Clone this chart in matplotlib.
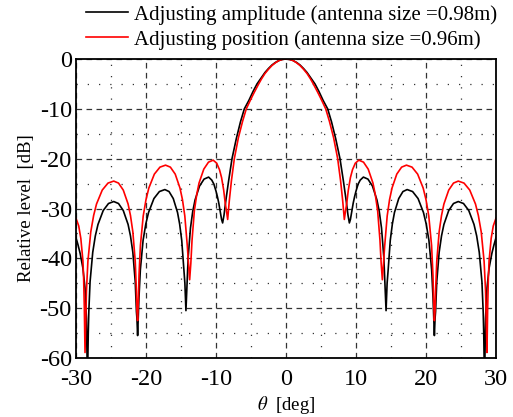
import numpy as np
import matplotlib
matplotlib.use('Agg')
import matplotlib.pyplot as plt

plt.rcParams['font.family'] = ['Liberation Serif', 'DejaVu Serif']
plt.rcParams['mathtext.fontset'] = 'stix'
plt.rcParams['axes.unicode_minus'] = False

# pattern (deg, dB)
theta_amp = [-30.0, -29.7, -29.4, -29.0, -28.7, -28.5,
             -28.35, -28.24, -28.16, -27.98, -27.6, -27.23, -26.85, -26.1, -25.35, -24.6, -23.92, -23.24,
             -22.55, -22.21, -21.87, -21.53, -21.36, -21.29,
             -21.19, -21.0, -20.8, -20.41, -20.02, -19.63, -18.86, -18.08, -17.3, -16.7, -16.1, -15.49,
             -15.19, -14.89, -14.59, -14.44,
             -14.29, -14.13, -13.97, -13.64, -13.32, -12.99, -12.35, -11.7, -11.05, -10.6, -10.3, -10.0,
             -9.8, -9.6, -9.4, -9.2,
             -9.05, -8.85, -8.6, -8.2, -7.71, -7.1, -6.5, -5.95, -5.3, -4.7, -4.14, -3.5, -3.0, -2.5,
             -2.0, -1.5, -1.0, -0.5,
             0.0,
             0.5, 1.0, 1.5, 2.0, 2.5, 3.0, 3.5, 4.14, 4.7, 5.3, 5.95, 6.5, 7.1, 7.71, 8.2, 8.6, 8.85, 9.05,
             9.2, 9.4, 9.6, 9.8, 10.0, 10.3, 10.6, 11.05, 11.7, 12.35, 12.99, 13.32, 13.64, 13.97, 14.13, 14.29,
             14.44, 14.59, 14.89, 15.19, 15.49, 16.1, 16.7, 17.3, 18.08, 18.86, 19.63, 20.02, 20.41, 20.8,
             21.0, 21.19,
             21.29, 21.36, 21.53, 21.87, 22.21, 22.55, 23.24, 23.92, 24.6, 25.35, 26.1, 26.85, 27.23, 27.6,
             27.98, 28.16, 28.24, 28.35,
             28.5, 28.7, 29.0, 29.4, 29.7, 30.0]
level_amp = [-35.8, -37.3, -39.0, -42.0, -46.0, -52.0,
             -65.0, -55.2, -50.7, -44.7, -38.8, -35.5, -33.2, -30.4, -29.0, -28.6, -29.0, -30.4,
             -33.2, -35.5, -38.8, -44.7, -50.7, -52.0,
             -55.5, -48.0, -42.3, -36.4, -33.1, -30.8, -28.0, -26.6, -26.2, -26.6, -28.0, -30.8,
             -33.1, -36.4, -42.3, -45.0,
             -50.5, -45.0, -39.8, -33.9, -30.6, -28.3, -25.5, -24.1, -23.7, -24.3, -25.1, -26.5,
             -27.6, -28.9, -30.5, -32.2,
             -32.9, -31.3, -28.5, -24.5, -20.0, -16.0, -12.6, -10.0, -8.3, -6.5, -5.0, -3.7, -2.7, -1.9,
             -1.2, -0.68, -0.3, -0.08,
             0.0,
             -0.08, -0.3, -0.68, -1.2, -1.9, -2.7, -3.7, -5.0, -6.5, -8.3, -10.0, -12.6, -16.0, -20.0, -24.5, -28.5, -31.3, -32.9,
             -32.2, -30.5, -28.9, -27.6, -26.5, -25.1, -24.3, -23.7, -24.1, -25.5, -28.3, -30.6, -33.9, -39.8, -45.0, -50.5,
             -45.0, -42.3, -36.4, -33.1, -30.8, -28.0, -26.6, -26.2, -26.6, -28.0, -30.8, -33.1, -36.4, -42.3,
             -48.0, -55.5,
             -52.0, -50.7, -44.7, -38.8, -35.5, -33.2, -30.4, -29.0, -28.6, -29.0, -30.4, -33.2, -35.5, -38.8,
             -44.7, -50.7, -55.2, -65.0,
             -52.0, -46.0, -42.0, -39.0, -37.3, -35.8]

theta_pos = [-30.0, -29.6, -29.3, -29.0, -28.9, -28.8,
             -28.7, -28.58, -28.5, -28.29, -27.88, -27.47, -27.06, -26.24, -25.42, -24.6, -23.92, -23.24,
             -22.55, -22.21, -21.87, -21.53, -21.36, -21.29,
             -21.19, -21.07, -20.99, -20.79, -20.39, -19.99, -19.59, -18.8, -18.0, -17.2, -16.51, -15.82,
             -15.14, -14.79, -14.45, -14.1, -13.93,
             -13.76, -13.59, -13.42, -13.09, -12.75, -12.42, -11.74, -11.07, -10.4, -9.9, -9.5, -9.2,
             -8.9, -8.67, -8.5,
             -8.33, -8.1, -7.8, -7.38, -6.8, -6.2, -5.67, -5.0, -4.5, -3.9, -3.5, -3.0, -2.5, -2.0,
             -1.5, -1.0, -0.5,
             0.0,
             0.5, 1.0, 1.5, 2.0, 2.5, 3.0, 3.5, 3.9, 4.5, 5.0, 5.67, 6.2, 6.8, 7.38, 7.8, 8.1, 8.33,
             8.5, 8.67, 8.9, 9.2, 9.5, 9.9, 10.4, 11.07, 11.74, 12.42, 12.75, 13.09, 13.42, 13.59, 13.76,
             13.93, 14.1, 14.45, 14.79, 15.14, 15.82, 16.51, 17.2, 18.0, 18.8, 19.59, 19.99, 20.39,
             20.79, 20.99, 21.07, 21.19,
             21.29, 21.36, 21.53, 21.87, 22.21, 22.55, 23.24, 23.92, 24.6, 25.42, 26.24, 27.06, 27.47,
             27.88, 28.29, 28.5, 28.58, 28.7,
             28.8, 28.9, 29.0, 29.3, 29.6, 30.0]
level_pos = [-31.9, -33.5, -36.0, -40.5, -44.0, -50.0,
             -58.9, -51.0, -46.6, -40.6, -34.7, -31.4, -29.1, -26.3, -24.9, -24.5, -24.9, -26.3,
             -29.1, -31.4, -34.7, -40.6, -46.6, -50.5,
             -52.5, -47.9, -43.4, -37.4, -31.5, -28.2, -25.9, -23.1, -21.7, -21.3, -21.7, -23.1,
             -25.9, -28.2, -31.5, -37.4, -41.0,
             -44.3, -41.0, -36.4, -30.5, -27.2, -24.9, -22.1, -20.7, -20.3, -20.9, -22.2, -23.8,
             -26.3, -29.0, -30.5,
             -32.2, -28.5, -24.5, -20.0, -15.8, -12.5, -10.0, -8.0, -6.6, -5.0, -4.0, -2.9, -2.05, -1.3,
             -0.75, -0.3, -0.08,
             0.0,
             -0.08, -0.3, -0.75, -1.3, -2.05, -2.9, -4.0, -5.0, -6.6, -8.0, -10.0, -12.5, -15.8, -20.0, -24.5, -28.5, -32.2,
             -30.5, -29.0, -26.3, -23.8, -22.2, -20.9, -20.3, -20.7, -22.1, -24.9, -27.2, -30.5, -36.4, -41.0, -44.3,
             -41.0, -37.4, -31.5, -28.2, -25.9, -23.1, -21.7, -21.3, -21.7, -23.1, -25.9, -28.2, -31.5,
             -37.4, -43.4, -47.9, -52.5,
             -50.5, -46.6, -40.6, -34.7, -31.4, -29.1, -26.3, -24.9, -24.5, -24.9, -26.3, -29.1, -31.4,
             -34.7, -40.6, -46.6, -51.0, -58.9,
             -50.0, -44.0, -40.5, -36.0, -33.5, -31.9]

labels = ['Adjusting amplitude (antenna size =0.98m)',
          'Adjusting position (antenna size =0.96m)']
xticks = [-30, -20, -10, 0, 10, 20, 30]
yticks = [-60, -50, -40, -30, -20, -10, 0]

fig = plt.figure(figsize=(5.13, 4.17), dpi=100)
ax = fig.add_axes([0.148, 0.1415, 0.819, 0.717])

l1, = ax.plot(theta_amp, level_amp, color='black', lw=1.2)
l2, = ax.plot(theta_pos, level_pos, color='red', lw=1.2)

ax.set_xlim(-30, 30)
ax.set_ylim(-60, 0)
ax.set_xticks(xticks)
ax.set_yticks(yticks)
ax.set_xticks(np.arange(-25, 30, 10), minor=True)
ax.set_yticks(np.arange(-55, 0, 10), minor=True)
ax.grid(which='major', color='#333333', linestyle=(0, (4.5, 3.5)), lw=0.9)
ax.grid(which='minor', color='#333333', linestyle=(0, (1, 8)), lw=0.9)
ax.tick_params(which='both', length=0)
ax.tick_params(axis='y', labelsize=17.5, pad=3)
ax.tick_params(axis='x', labelsize=17.5, pad=8)
for s in ax.spines.values():
    s.set_linewidth(1.3)

ax.set_xlabel(r'$\theta$  [deg]', fontsize=13.5, labelpad=3)
ax.set_ylabel('Relative level  [dB]', fontsize=13.5, labelpad=3)

fig.legend([l1, l2], labels, loc='upper left', bbox_to_anchor=(86 / 513, 1 - 5 / 417),
           frameon=False, fontsize=15, handlelength=2.0, handletextpad=0.3,
           labelspacing=0.25, borderpad=0, borderaxespad=0)

fig.savefig('out.png', dpi=100)
